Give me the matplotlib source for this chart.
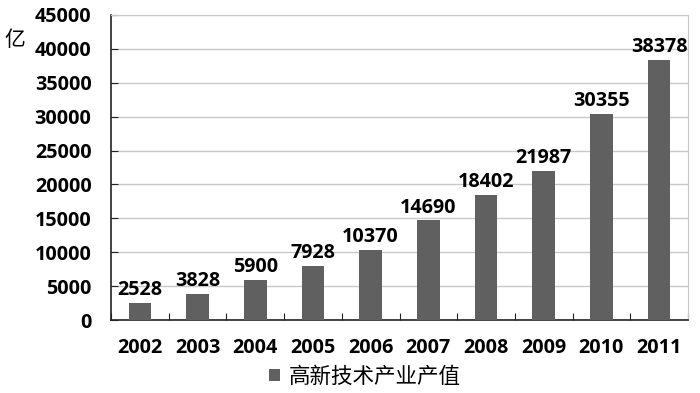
import numpy as np
import matplotlib.pyplot as plt

years = ['2002', '2003', '2004', '2005', '2006', '2007', '2008', '2009', '2010', '2011']
values = [2528, 3828, 5900, 7928, 10370, 14690, 18402, 21987, 30355, 38378]
yticks = [0, 5000, 10000, 15000, 20000, 25000, 30000, 35000, 40000, 45000]
legend_label = '高新技术产业产值'
unit = '亿'

num_font = 'Open Sans'
cjk_font = ['Noto Sans CJK SC', 'DejaVu Sans']
fs = 14.2

fig = plt.figure(figsize=(7, 3.93), dpi=100)
ax = fig.add_axes([111 / 700, 1 - 320 / 393, (688 - 111) / 700, (320 - 15) / 393])

x = np.arange(len(years))
bars = ax.bar(x, values, width=0.39, color='#606060', zorder=3, label=legend_label)

ax.set_xlim(-0.5, len(years) - 0.5)
ax.set_ylim(0, 45000)
ax.set_yticks(yticks)
ax.set_yticklabels([str(v) for v in yticks], fontfamily=num_font, fontweight='bold', fontsize=fs)
ax.grid(axis='y', color='#c8c8c8', linewidth=1, zorder=0)

# category ticks at the boundaries, labels in the middle
ax.set_xticks(np.arange(len(years) + 1) - 0.5)
ax.set_xticklabels([])
ax.set_xticks(x, minor=True)
ax.set_xticklabels(years, minor=True, fontfamily=num_font, fontweight='bold', fontsize=fs)
ax.tick_params(axis='x', which='major', direction='in', length=5, color='#222222')
ax.tick_params(axis='x', which='minor', length=0, pad=13)
ax.tick_params(axis='y', direction='in', length=5, color='#222222', pad=14)

for side in ['top', 'right']:
    ax.spines[side].set_color('#c8c8c8')
for side in ['left', 'bottom']:
    ax.spines[side].set_color('#222222')
    ax.spines[side].set_linewidth(1.2)

for b, v in zip(bars, values):
    ax.annotate(str(v), (b.get_x() + b.get_width() / 2, v), xytext=(0, 2),
                textcoords='offset points', ha='center', va='bottom',
                fontfamily=num_font, fontweight='bold', fontsize=fs)

fig.text(15 / 700, 1 - 40 / 393, unit, fontfamily=cjk_font, fontsize=15, ha='center', va='center')

leg = fig.legend(loc='center', bbox_to_anchor=(365 / 700, 1 - 377 / 393), frameon=False,
                 prop={'family': cjk_font, 'size': 15.5}, handlelength=0.5, handleheight=0.5,
                 handletextpad=0.4)

plt.savefig('out.png', dpi=100)
plt.close()
